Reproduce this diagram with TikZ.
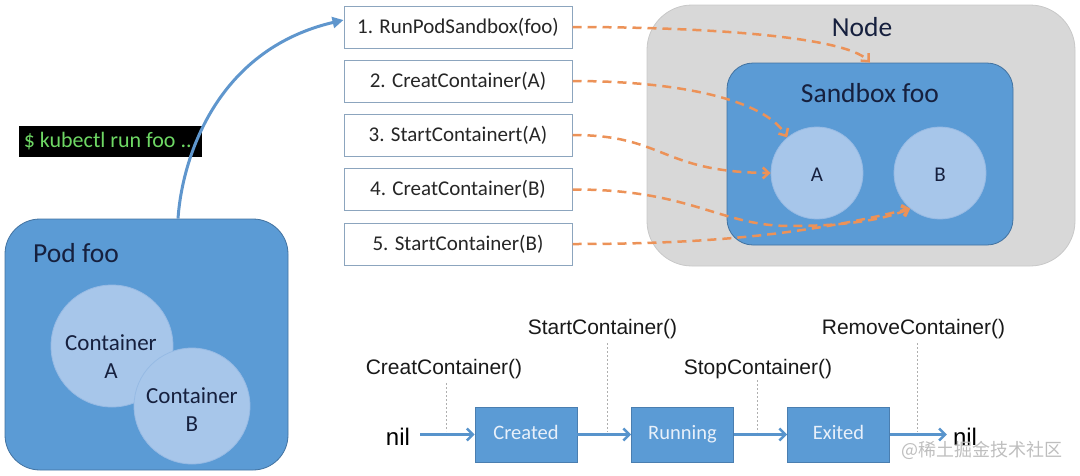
\documentclass[tikz,border=0pt]{standalone}
\usepackage{fontspec}
\setmainfont{Carlito}
\newfontfamily\arialf{Liberation Sans}
\newfontfamily\cjkf{Noto Sans CJK SC}
\usetikzlibrary{arrows.meta}
\definecolor{bluefill}{RGB}{91,155,213}
\definecolor{blueedge}{RGB}{66,114,160}
\definecolor{circfill}{RGB}{167,198,234}
\definecolor{circedge}{RGB}{150,186,228}
\definecolor{navy}{RGB}{22,32,62}
\definecolor{greyfill}{RGB}{216,216,216}
\definecolor{greyedge}{RGB}{200,200,200}
\definecolor{stepedge}{RGB}{140,165,190}
\definecolor{orangec}{RGB}{236,146,88}
\definecolor{curveblue}{RGB}{95,150,205}
\definecolor{flowblue}{RGB}{88,148,204}
\definecolor{guidegrey}{RGB}{175,175,175}
\definecolor{termgreen}{RGB}{110,215,100}
\definecolor{statetext}{RGB}{232,240,250}
\definecolor{wmgrey}{RGB}{190,190,190}
\tikzset{
  podbox/.style={draw=blueedge, fill=bluefill, line width=0.8pt, rounded corners=35pt, inner sep=0pt},
  sbxbox/.style={draw=blueedge, fill=bluefill, line width=0.8pt, rounded corners=26pt, inner sep=0pt},
  nodebox/.style={draw=greyedge, fill=greyfill, line width=0.8pt, rounded corners=45pt, inner sep=0pt},
  ctr/.style={circle, draw=circedge, fill=circfill, line width=0.8pt, inner sep=0pt},
  stepbox/.style={draw=stepedge, fill=white, line width=1pt, minimum width=228pt, minimum height=42pt, inner sep=0pt, font=\fontsize{21}{24}\selectfont, text=black!85},
  statebox/.style={draw=blueedge!70!bluefill, fill=bluefill, line width=0.8pt, minimum width=102pt, minimum height=55pt, inner sep=0pt, text height=13pt, text depth=4pt, font=\fontsize{20.5}{24}\selectfont, text=statetext},
  biglbl/.style={font=\fontsize{27.5}{30}\selectfont, text=navy, inner sep=0pt},
  ctrlbl/.style={font=\fontsize{23}{26}\selectfont, text=navy, inner sep=0pt},
  apilbl/.style={font=\arialf\fontsize{21}{24}\selectfont, text=black!90, inner sep=0pt},
  nillbl/.style={font=\arialf\fontsize{24}{26}\selectfont, text=black, inner sep=3pt},
  orangearrow/.style={draw=orangec, line width=2.5pt, dash pattern=on 9pt off 6pt, -{Straight Barb[length=6pt,width=11pt]}},
  flow/.style={draw=flowblue, line width=2.5pt, -{Straight Barb[length=6pt,width=12pt]}},
  guide/.style={draw=guidegrey, line width=0.8pt, dash pattern=on 2pt off 2pt},
}
\begin{document}
\begin{tikzpicture}[x=1pt,y=-1pt]
\useasboundingbox (0,0) rectangle (1080,475);

% ---------- Pod foo ----------
\node[podbox, minimum width=283pt, minimum height=251pt] (pod) at (146.5,344.5) {};
\node[biglbl, anchor=base west] (podlbl) at (33,262) {Pod foo};
\node[ctr, minimum size=122pt] (ca) at (112,346) {};
\node[ctr, minimum size=116pt] (cb) at (192,406) {};
\node[ctrlbl, anchor=base] (calbl1) at (111,350) {Container};
\node[ctrlbl, anchor=base] (calbl2) at (111,378) {A};
\node[ctrlbl, anchor=base] (cblbl1) at (192,403) {Container};
\node[ctrlbl, anchor=base] (cblbl2) at (192,431) {B};

% ---------- kubectl ----------
\node[fill=black, minimum width=183pt, minimum height=31pt, inner sep=0pt,
      font=\fontsize{22}{24}\selectfont, text=termgreen] (kube) at (110.5,141.5) {\$ kubectl run foo ...};

% ---------- Steps ----------
\node[stepbox] (s1) at (458,27) {1. RunPodSandbox(foo)};
\node[stepbox] (s2) at (458,81) {2. CreatContainer(A)};
\node[stepbox] (s3) at (458,135) {3. StartContainert(A)};
\node[stepbox] (s4) at (458,189.5) {4. CreatContainer(B)};
\node[stepbox] (s5) at (458,244) {5. StartContainer(B)};

% blue curve from Pod foo to step 1
\draw[draw=curveblue, line width=3pt, -{Triangle[length=11pt,width=11pt]}]
  ([xshift=31.5pt]pod.north) .. controls (182,160) and (215,50) .. ([yshift=7pt]s1.west);

% ---------- Node / Sandbox ----------
\node[nodebox, minimum width=428pt, minimum height=261pt] (nodeb) at (861,135.5) {};
\node[biglbl, anchor=base] (nodelbl) at (862,36) {Node};
\node[sbxbox, minimum width=286pt, minimum height=182pt] (sbx) at (870,154) {};
\node[biglbl, anchor=base] (sbxlbl) at (870,102) {Sandbox foo};
\node[ctr, minimum size=92pt] (sa) at (817,173) {};
\node[ctr, minimum size=92pt] (sb) at (940,173) {};
\node[font=\fontsize{21}{22}\selectfont, text=navy, inner sep=0pt] (salbl) at (817,175) {A};
\node[font=\fontsize{21}{22}\selectfont, text=navy, inner sep=0pt] (sblbl) at (940,175) {B};

% orange dashed arrows
\draw[orangearrow] (s1.east) .. controls (700,27) and (845,36) .. (sbx.north);
\draw[orangearrow] (s2.east) .. controls (680,81) and (765,100) .. (sa.130);
\draw[orangearrow] (s3.east) .. controls (665,135) and (660,172) .. (sa.west);
\draw[orangearrow] (s4.east) .. controls (690,189) and (720,226) .. (790,226) .. controls (840,226) and (880,221) .. (sb.230);
\draw[orangearrow] (s5.east) .. controls (700,244) and (800,236) .. (sb.230);

% ---------- Lifecycle ----------
\node[nillbl, anchor=base] (nil1) at (398,445) {nil};
\node[statebox] (created) at (526,434.5) {Created};
\node[statebox] (running) at (682.5,434.5) {Running};
\node[statebox] (exited) at (838.5,434.5) {Exited};
\node[nillbl, anchor=base] (nil2) at (965,445) {nil};

\draw[flow, shorten <=7pt] (nil1.east |- created.west) -- (created.west);
\draw[flow] (created.east) -- (running.west);
\draw[flow] (running.east) -- (exited.west);
\draw[flow, shorten >=3pt] (exited.east) -- (nil2.west |- exited.east);

\node[apilbl, anchor=base] (lcreate) at (444,374) {CreatContainer()};
\node[apilbl, anchor=base] (lstart) at (602.5,334) {StartContainer()};
\node[apilbl, anchor=base] (lstop) at (758,374) {StopContainer()};
\node[apilbl, anchor=base] (lremove) at (913.5,334) {RemoveContainer()};

\coordinate (g1t) at (446,383); \coordinate (g1b) at (446,431);
\coordinate (g2t) at (607,343); \coordinate (g2b) at (607,432);
\coordinate (g3t) at (757,380); \coordinate (g3b) at (757,432);
\coordinate (g4t) at (917,343); \coordinate (g4b) at (917,432);
\draw[guide] (g1t) -- (g1b);
\draw[guide] (g2t) -- (g2b);
\draw[guide] (g3t) -- (g3b);
\draw[guide] (g4t) -- (g4b);

% watermark
\node[font=\cjkf\fontsize{18}{20}\selectfont, text=wmgrey, inner sep=0pt] (wm) at (982,450) {@稀土掘金技术社区};
\end{tikzpicture}
\end{document}
